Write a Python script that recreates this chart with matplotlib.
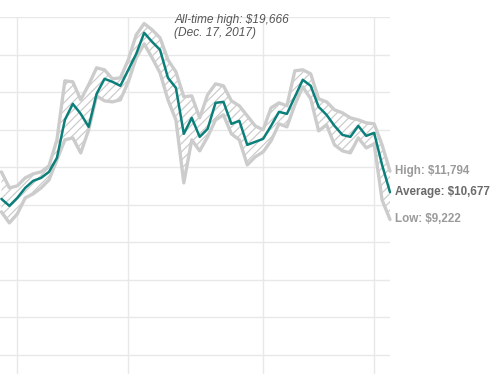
import matplotlib
matplotlib.use("Agg")
import matplotlib.pyplot as plt
import numpy as np

# Days relative to Dec. 1, 2017 (day 0); last point is Jan. 17, 2018
days = list(range(-2, 48))

average = [10320, 9947, 10373, 10907, 11280, 11440, 11760, 12507, 14533, 15387,
           14853, 14160, 15920, 16720, 16560, 16347, 17200, 18053, 19173, 18693,
           18267, 16773, 16240, 13787, 14640, 13627, 14053, 15440, 15493, 14320,
           14480, 13200, 13360, 13520, 14213, 14960, 14853, 15760, 16667, 16347,
           15227, 14800, 14213, 13733, 13627, 14213, 13680, 13840, 12133, 10677]

high = [11760, 10907, 11013, 11440, 11653, 11760, 12080, 13467, 16613, 16560,
        15600, 16400, 17307, 17200, 16720, 16773, 17733, 19067, 19666, 19333,
        18907, 17733, 17093, 15760, 15813, 14640, 15867, 16453, 16347, 15547,
        15280, 14747, 14213, 14000, 15173, 15440, 15280, 17147, 17200, 16987,
        15653, 15493, 15067, 14907, 14640, 14533, 14373, 14320, 13200, 11794]

low = [9627, 9040, 9520, 10373, 10587, 10907, 11333, 12400, 13467, 13573,
       12773, 14000, 15813, 15547, 15493, 15600, 16560, 17840, 18587, 17840,
       17040, 15600, 14533, 11173, 13467, 12880, 13627, 14533, 14800, 13787,
       13467, 12133, 12560, 12827, 13413, 14320, 14160, 15333, 16293, 15653,
       13947, 14267, 13200, 12880, 12773, 13573, 13040, 13253, 10267, 9222]

grid_days = [0, 14, 31, 45]          # Dec 1, Dec 15, Jan 1, Jan 15
grid_values = list(range(2000, 20001, 2000))

ath_value = 19666
ath_day = 16
ath_label = "All-time high: $19,666\n(Dec. 17, 2017)"

plt.rcParams['font.family'] = ['Liberation Sans', 'DejaVu Sans']
plt.rcParams['hatch.linewidth'] = 0.9

W, H = 499, 374
fig = plt.figure(figsize=(W / 100, H / 100), dpi=100)
# axes extends beyond the figure on the left and bottom (cropped chart)
ax_left_px, ax_right_px = 0, 390
ax_top_px, ax_bot_px = 17.3, 392.5
ax = fig.add_axes([ax_left_px / W, (H - ax_bot_px) / H,
                   (ax_right_px - ax_left_px) / W, (ax_bot_px - ax_top_px) / H])
ax.set_xlim(-2.18, 47)
ax.set_ylim(0, 20000)
for s in ax.spines.values():
    s.set_visible(False)
ax.set_xticks([])
ax.set_yticks([])

grid_c = '#e8e8e8'
for v in grid_values:
    ax.axhline(v, color=grid_c, lw=1.0, zorder=0)
for d in grid_days:
    ax.axvline(d, color=grid_c, lw=1.0, zorder=0)

band_c = '#cccccc'
ax.fill_between(days, low, high, facecolor='white', edgecolor=band_c,
                hatch='////', linewidth=0, zorder=1)
ax.plot(days, high, color=band_c, lw=2.4, solid_joinstyle='round',
        solid_capstyle='round', zorder=2, clip_on=False)
ax.plot(days, low, color=band_c, lw=2.4, solid_joinstyle='round',
        solid_capstyle='round', zorder=2, clip_on=False)
ax.plot(days, average, color='#0b7f7a', lw=1.8, solid_joinstyle='round',
        solid_capstyle='round', zorder=3, clip_on=False)

ax.annotate(ath_label, xy=(ath_day, ath_value), xytext=(30, -2.5),
            textcoords='offset pixels', ha='left', va='center',
            fontsize=8.6, style='italic', color='#555555',
            linespacing=1.12, annotation_clip=False)

labels = [("High: $11,794", high[-1], '#9a9a9a'),
          ("Average: $10,677", average[-1], '#6a6a6a'),
          ("Low: $9,222", low[-1], '#9a9a9a')]
for txt, val, col in labels:
    ax.annotate(txt, xy=(days[-1], val), xytext=(5, 0),
                textcoords='offset pixels', ha='left', va='center',
                fontsize=8.4, fontweight='bold', color=col,
                annotation_clip=False)

fig.savefig('out.png', dpi=100)
